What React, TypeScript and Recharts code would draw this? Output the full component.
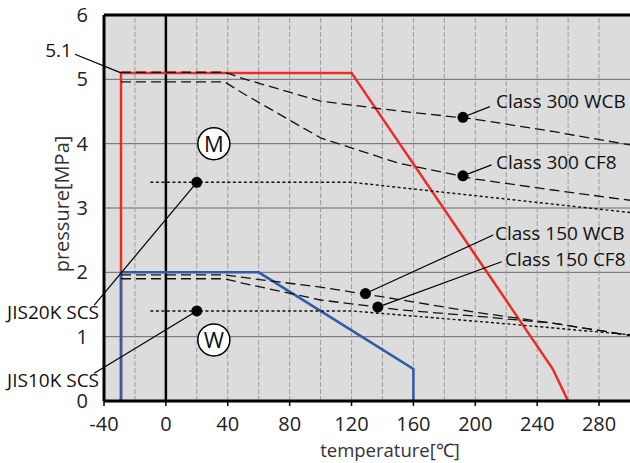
import {
  ComposedChart,
  Line,
  XAxis,
  YAxis,
  CartesianGrid,
  ReferenceLine,
  ReferenceDot,
} from 'recharts';

// temperature [°C] / pressure [MPa]
const xTicks = [-40, 0, 40, 80, 120, 160, 200, 240, 280];
const yTicks = [0, 1, 2, 3, 4, 5, 6];
const gridX = [-20, 20, 40, 60, 80, 100, 120, 140, 160, 180, 200, 220, 240, 260, 280];

const classM = [
  { t: -29, p: 0 },
  { t: -29, p: 5.1 },
  { t: 120, p: 5.1 },
  { t: 250, p: 0.5 },
  { t: 260, p: 0 },
];
const classW = [
  { t: -29, p: 0 },
  { t: -29, p: 2.0 },
  { t: 60, p: 2.0 },
  { t: 160, p: 0.5 },
  { t: 160, p: 0 },
];
const c300WCB = [
  { t: -29, p: 5.11 },
  { t: 38, p: 5.11 },
  { t: 50, p: 5.01 },
  { t: 100, p: 4.66 },
  { t: 150, p: 4.51 },
  { t: 200, p: 4.38 },
  { t: 250, p: 4.19 },
  { t: 300, p: 3.98 },
];
const c300CF8 = [
  { t: -29, p: 4.96 },
  { t: 38, p: 4.96 },
  { t: 50, p: 4.78 },
  { t: 100, p: 4.09 },
  { t: 150, p: 3.7 },
  { t: 200, p: 3.45 },
  { t: 250, p: 3.28 },
  { t: 300, p: 3.12 },
];
const c150WCB = [
  { t: -29, p: 1.96 },
  { t: 38, p: 1.96 },
  { t: 50, p: 1.92 },
  { t: 100, p: 1.77 },
  { t: 150, p: 1.58 },
  { t: 200, p: 1.38 },
  { t: 250, p: 1.21 },
  { t: 300, p: 1.02 },
];
const c150CF8 = [
  { t: -29, p: 1.9 },
  { t: 38, p: 1.9 },
  { t: 50, p: 1.83 },
  { t: 100, p: 1.57 },
  { t: 150, p: 1.42 },
  { t: 200, p: 1.32 },
  { t: 250, p: 1.21 },
  { t: 300, p: 1.02 },
];
const jis20K = [
  { t: -10, p: 3.4 },
  { t: 120, p: 3.4 },
  { t: 300, p: 2.93 },
];
const jis10K = [
  { t: -10, p: 1.4 },
  { t: 120, p: 1.4 },
  { t: 220, p: 1.2 },
  { t: 300, p: 1.03 },
];

// marker dots on the curves
const markers = [
  { t: 192, p: 4.41 },
  { t: 192, p: 3.5 },
  { t: 129, p: 1.67 },
  { t: 137, p: 1.46 },
  { t: 20, p: 3.4 },
  { t: 20, p: 1.4 },
];

// leader lines: from marker to label
const leaders = [
  { from: { t: -29, p: 5.1 }, to: { t: -58.8, p: 5.39 } },
  { from: { t: 192, p: 4.41 }, to: { t: 209.4, p: 4.575 } },
  { from: { t: 192, p: 3.5 }, to: { t: 210.5, p: 3.67 } },
  { from: { t: 129, p: 1.67 }, to: { t: 211.6, p: 2.58 } },
  { from: { t: 137, p: 1.46 }, to: { t: 217, p: 2.165 } },
  { from: { t: 20, p: 3.4 }, to: { t: -46.3, p: 1.49 } },
  { from: { t: 20, p: 1.4 }, to: { t: -46.3, p: 0.43 } },
];

const labels = [
  { text: '5.1', t: -60.7, p: 5.46, anchor: 'end' },
  { text: 'Class 300 WCB', t: 213.4, p: 4.66, anchor: 'start' },
  { text: 'Class 300 CF8', t: 213.4, p: 3.72, anchor: 'start' },
  { text: 'Class 150 WCB', t: 212.7, p: 2.61, anchor: 'start' },
  { text: 'Class 150 CF8', t: 219.2, p: 2.21, anchor: 'start' },
  { text: 'JIS20K SCS', t: -43.2, p: 1.38, anchor: 'end' },
  { text: 'JIS10K SCS', t: -43.2, p: 0.32, anchor: 'end' },
];

const circles = [
  { text: 'M', t: 31, p: 4.0 },
  { text: 'W', t: 31, p: 0.95 },
];

const FONT = '"Open Sans", sans-serif';

export default function App() {
  return (
    <div style={{ position: 'absolute', left: 0, top: 0 }}>
      <ComposedChart
        width={630}
        height={463}
        margin={{ top: 15, right: 0, bottom: 0, left: 0 }}
        style={{ fontFamily: FONT }}
      >
        <CartesianGrid vertical={false} stroke="#6a6a6a" strokeWidth={1} fill="#dcdcdc" fillOpacity={1} />
        {gridX.map((x) => (
          <ReferenceLine key={x} x={x} stroke="#9c9c9c" strokeDasharray="5 2" strokeWidth={1} />
        ))}
        <ReferenceLine x={0} stroke="#000" strokeWidth={2.5} />
        <ReferenceLine y={6} stroke="#000" strokeWidth={3} />
        <XAxis
          dataKey="t"
          type="number"
          domain={[-40, 300]}
          ticks={xTicks}
          allowDataOverflow
          height={62}
          axisLine={{ stroke: '#000', strokeWidth: 3 }}
          tickLine={{ stroke: '#000', strokeWidth: 1.5 }}
          tickSize={5}
          tickMargin={11}
          tick={{ fill: '#222', fontSize: 20, fontFamily: FONT }}
        />
        <YAxis
          type="number"
          domain={[0, 6]}
          ticks={yTicks}
          allowDataOverflow
          width={104}
          axisLine={{ stroke: '#000', strokeWidth: 3 }}
          tickLine={false}
          tickMargin={10}
          tick={{ fill: '#222', fontSize: 20, fontFamily: FONT }}
        />

        <Line data={classM} dataKey="p" stroke="#ee2a24" strokeWidth={2.5} dot={false} isAnimationActive={false} />
        <Line data={classW} dataKey="p" stroke="#2d5ca8" strokeWidth={2.5} dot={false} isAnimationActive={false} />
        <Line data={c300WCB} dataKey="p" stroke="#111" strokeWidth={1.3} strokeDasharray="10 5" dot={false} isAnimationActive={false} />
        <Line data={c300CF8} dataKey="p" stroke="#111" strokeWidth={1.3} strokeDasharray="10 5" dot={false} isAnimationActive={false} />
        <Line data={c150WCB} dataKey="p" stroke="#111" strokeWidth={1.3} strokeDasharray="10 5" dot={false} isAnimationActive={false} />
        <Line data={c150CF8} dataKey="p" stroke="#111" strokeWidth={1.3} strokeDasharray="10 5" dot={false} isAnimationActive={false} />
        <Line data={jis20K} dataKey="p" stroke="#111" strokeWidth={1.4} strokeDasharray="3 2.5" dot={false} isAnimationActive={false} />
        <Line data={jis10K} dataKey="p" stroke="#111" strokeWidth={1.4} strokeDasharray="3 2.5" dot={false} isAnimationActive={false} />

        {leaders.map((l, i) => (
          <ReferenceLine
            key={'l' + i}
            segment={[
              { x: l.from.t, y: l.from.p },
              { x: l.to.t, y: l.to.p },
            ]}
            stroke="#000"
            strokeWidth={1.2}
            ifOverflow="visible"
          />
        ))}
        {markers.map((m, i) => (
          <ReferenceDot key={'m' + i} x={m.t} y={m.p} r={5.5} fill="#000" stroke="none" ifOverflow="visible" />
        ))}
        {circles.map((c) => (
          <ReferenceDot
            key={c.text}
            x={c.t}
            y={c.p}
            r={16}
            ifOverflow="visible"
            shape={(props: any) => (
              <g>
                <circle cx={props.cx} cy={props.cy} r={16} fill="#fff" stroke="#000" strokeWidth={1.5} />
                <text
                  x={props.cx}
                  y={props.cy}
                  dy="0.36em"
                  textAnchor="middle"
                  fontSize={22}
                  fontFamily={FONT}
                  fill="#111"
                >
                  {c.text}
                </text>
              </g>
            )}
          />
        ))}
        {labels.map((lb) => (
          <ReferenceDot
            key={lb.text}
            x={lb.t}
            y={lb.p}
            r={1}
            ifOverflow="visible"
            shape={(props: any) => (
              <text
                x={props.cx}
                y={props.cy}
                dy="0.36em"
                textAnchor={lb.anchor}
                fontSize={19}
                fontFamily={FONT}
                fill="#111"
              >
                {lb.text}
              </text>
            )}
          />
        ))}
        <text
          x={62}
          y={204}
          transform="rotate(-90 62 204)"
          textAnchor="middle"
          dy="0.36em"
          fontSize={20}
          fontFamily={FONT}
          fill="#333"
        >
          pressure[MPa]
        </text>
        <text x={390} y={450} textAnchor="middle" dy="0.36em" fontSize={18.5} fontFamily={FONT} fill="#333">
          temperature[℃]
        </text>
      </ComposedChart>
    </div>
  );
}
